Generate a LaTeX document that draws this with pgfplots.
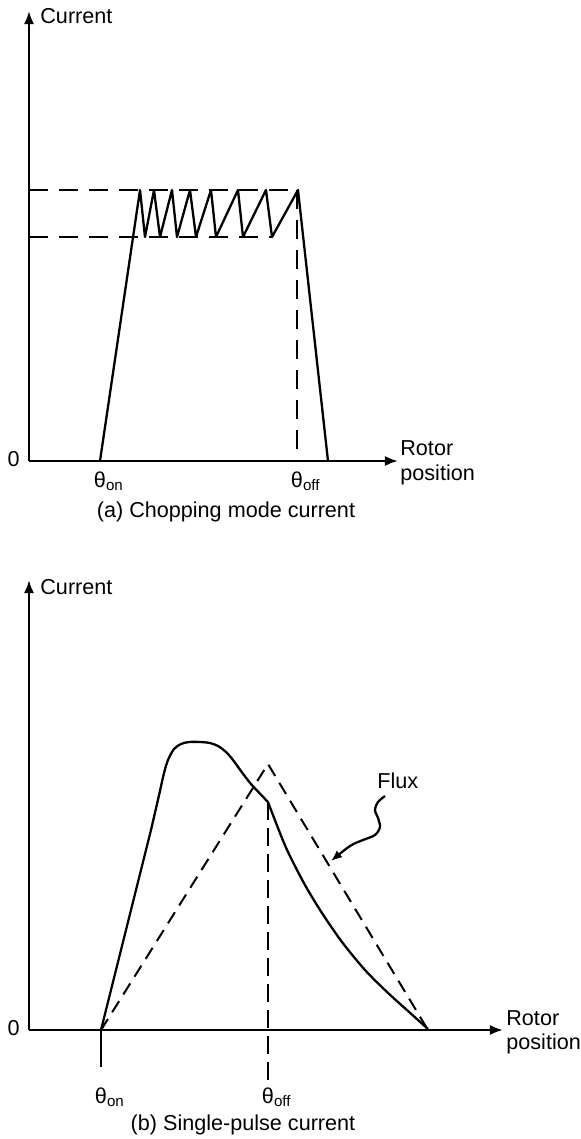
\documentclass[border=0pt]{standalone}
\usepackage{fontspec}
\setmainfont{Liberation Sans}
\usepackage{pgfplots}
\pgfplotsset{compat=1.18}
\usetikzlibrary{arrows.meta}

\pgfplotsset{
  sketch/.style={
    x=0.5bp, y=0.5bp, anchor=origin, axis lines*=left,
    axis line style={line width=1.1bp, -{Latex[length=6.5bp,width=5bp]}},
    xtick=\empty, ytick=\empty, clip=false, xmin=0, ymin=0, ymax=450,
  },
  cur/.style={black, line width=1.15bp, no markers, line join=round},
  dshA/.style={black, line width=1bp, dash pattern=on 9.5bp off 5.5bp, no markers},
  dshB/.style={black, line width=1bp, dash pattern=on 9bp off 4bp, no markers},
  dshF/.style={black, line width=1bp, dash pattern=on 6.5bp off 4bp, no markers},
}
\tikzset{lbl/.style={inner sep=0pt, font=\fontsize{10.8bp}{12.5bp}\selectfont}}

\begin{document}
\begin{tikzpicture}[font=\fontsize{10.8bp}{12.5bp}\selectfont]
\useasboundingbox (-14.5bp,230.5bp) rectangle (276bp,-339bp);

% (a) Chopping mode current
\begin{axis}[sketch, at={(0,0)}, xmax=369]
\addplot[dshA] coordinates {(0,271) (269,271)};
\addplot[dshA] coordinates {(0,224) (243,224)};
\addplot[dshA] coordinates {(268,271) (268,0)};
\addplot[cur] coordinates {(71,0) (111,271) (116,224) (125,271) (131,224) (143,271) (148,224) (161,271) (167,224) (182,271) (187,224) (209,271) (214,224) (237,271) (243,224) (269,271) (299,0)};
\node[lbl, anchor=base west] at (axis cs:11,438) {Current};
\node[lbl, anchor=base east] at (axis cs:-9,-5) {0};
\node[lbl, anchor=base] at (axis cs:71,-26) {θ\rlap{\textsubscript{on}}};
\node[lbl, anchor=base] at (axis cs:268,-26) {θ\rlap{\textsubscript{off}}};
\node[lbl, anchor=base west] at (axis cs:371,6) {Rotor};
\node[lbl, anchor=base west] at (axis cs:371,-19) {position};
\node[lbl, anchor=base] at (axis cs:197,-56) {(a) Chopping mode current};
\end{axis}

% (b) Single-pulse current
\begin{axis}[sketch, at={(0,-284.5bp)}, xmax=474]
\addplot[dshF] coordinates {(72,0) (239,266) (399,0)};
\addplot[dshB] coordinates {(239,228) (239,-53)};
\addplot[cur] coordinates {(72,0) (72,-37)};
\addplot[cur] coordinates {(72,0) (100,112) (122,200) (131,239)};
\addplot[cur, smooth] coordinates {(131,239) (135,257) (139,270) (145,281) (152,286) (160,288) (171,288) (181,287) (189,284) (197,278) (204,270) (212,259) (222,246) (239,228)};
\addplot[cur, smooth] coordinates {(239,228) (249,202) (259,178) (276,145) (293,117) (313,88) (336,60) (358,38) (379,19) (399,1)};
\addplot[cur, smooth, -{Latex[length=5.5bp,width=4.5bp]}] coordinates {(356,234) (349,228) (346,220) (349,212) (351,203) (346,195) (334,190) (321,184) (302,169)};
\node[lbl, anchor=base west] at (axis cs:348,242) {Flux};
\node[lbl, anchor=base west] at (axis cs:11,436) {Current};
\node[lbl, anchor=base east] at (axis cs:-9,-5) {0};
\node[lbl, anchor=base] at (axis cs:72,-73) {θ\rlap{\textsubscript{on}}};
\node[lbl, anchor=base] at (axis cs:239,-73) {θ\rlap{\textsubscript{off}}};
\node[lbl, anchor=base west] at (axis cs:477,5) {Rotor};
\node[lbl, anchor=base west] at (axis cs:477,-19) {position};
\node[lbl, anchor=base] at (axis cs:214,-100) {(b) Single-pulse current};
\end{axis}
\end{tikzpicture}
\end{document}
